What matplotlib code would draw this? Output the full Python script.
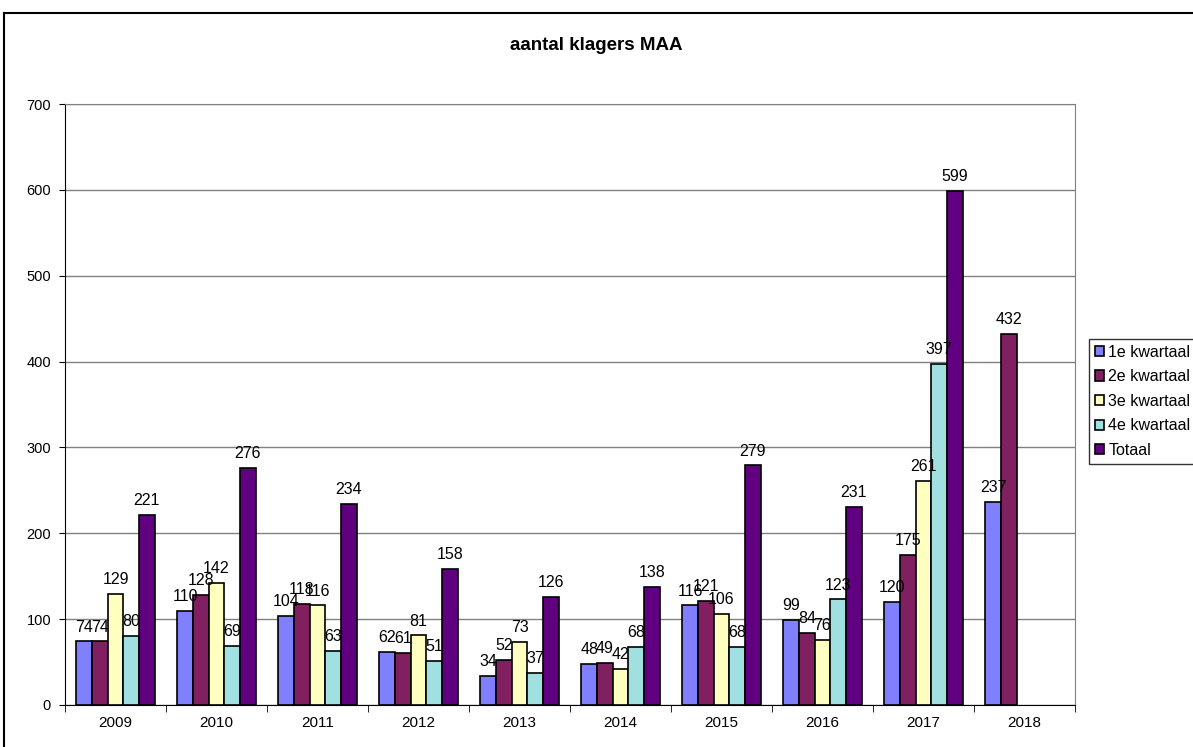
import numpy as np
import matplotlib.pyplot as plt
from matplotlib.lines import Line2D

plt.rcParams['font.family'] = ['Liberation Sans', 'DejaVu Sans']

years = ['2009', '2010', '2011', '2012', '2013', '2014', '2015', '2016', '2017', '2018']
series_names = ['1e kwartaal', '2e kwartaal', '3e kwartaal', '4e kwartaal', 'Totaal']
q1 = [74, 110, 104, 62, 34, 48, 116, 99, 120, 237]
q2 = [74, 128, 118, 61, 52, 49, 121, 84, 175, 432]
q3 = [129, 142, 116, 81, 73, 42, 106, 76, 261, None]
q4 = [80, 69, 63, 51, 37, 68, 68, 123, 397, None]
totaal = [221, 276, 234, 158, 126, 138, 279, 231, 599, None]
colors = ['#8080FF', '#802060', '#FFFFC0', '#A0E0E0', '#600080']

fig = plt.figure(figsize=(11.93, 7.47), dpi=100)
ax = fig.add_axes([65 / 1193, 1 - 705 / 747, 1010 / 1193, 601 / 747])

x = np.arange(len(years))
w = 0.155
all_series = [q1, q2, q3, q4, totaal]
for k, (vals, name, col) in enumerate(zip(all_series, series_names, colors)):
    xs = [x[i] + (k - 2) * w for i, v in enumerate(vals) if v is not None]
    vs = [v for v in vals if v is not None]
    ax.bar(xs, vs, width=w, color=col, edgecolor='black', linewidth=1.2,
           label=name, zorder=3)
    for xi, v in zip(xs, vs):
        ax.text(xi, v + 8, str(v), ha='center', va='bottom', fontsize=11.5,
                zorder=4)

ax.set_xlim(-0.5, len(years) - 0.5)
ax.set_ylim(0, 700)
ax.set_yticks(range(0, 701, 100))
ax.set_xticks(x)
ax.set_xticklabels(years, fontsize=11)
ax.set_xticks(np.arange(-0.5, len(years), 1), minor=True)
ax.tick_params(axis='x', which='major', length=0, pad=8)
ax.tick_params(axis='x', which='minor', length=5, direction='out', color='black')
ax.tick_params(axis='y', length=4, direction='out', labelsize=10.5, pad=6)
ax.yaxis.grid(True, color='#808080', linewidth=1, zorder=0)
for side in ['top', 'right']:
    ax.spines[side].set_color('#808080')
ax.spines['left'].set_color('black')
ax.spines['bottom'].set_color('black')

fig.text(0.5, 1 - 45 / 747, 'aantal klagers MAA', ha='center', va='center',
         fontsize=13.5, fontweight='bold')

leg = fig.legend(loc='upper left', bbox_to_anchor=(1089 / 1193, 1 - 339 / 747),
                 frameon=True, fancybox=False, edgecolor='black', fontsize=11.5,
                 handlelength=0.6, handleheight=0.6, handletextpad=0.25,
                 borderpad=0.35, labelspacing=0.6, borderaxespad=0)
leg.get_frame().set_linewidth(1)

# outer chart border
fig.add_artist(Line2D([4 / 1193, 1], [1 - 13 / 747, 1 - 13 / 747],
                      color='black', linewidth=1.5, transform=fig.transFigure))
fig.add_artist(Line2D([4 / 1193, 4 / 1193], [0, 1 - 13 / 747],
                      color='black', linewidth=1.5, transform=fig.transFigure))

fig.savefig('out.png', dpi=100)
